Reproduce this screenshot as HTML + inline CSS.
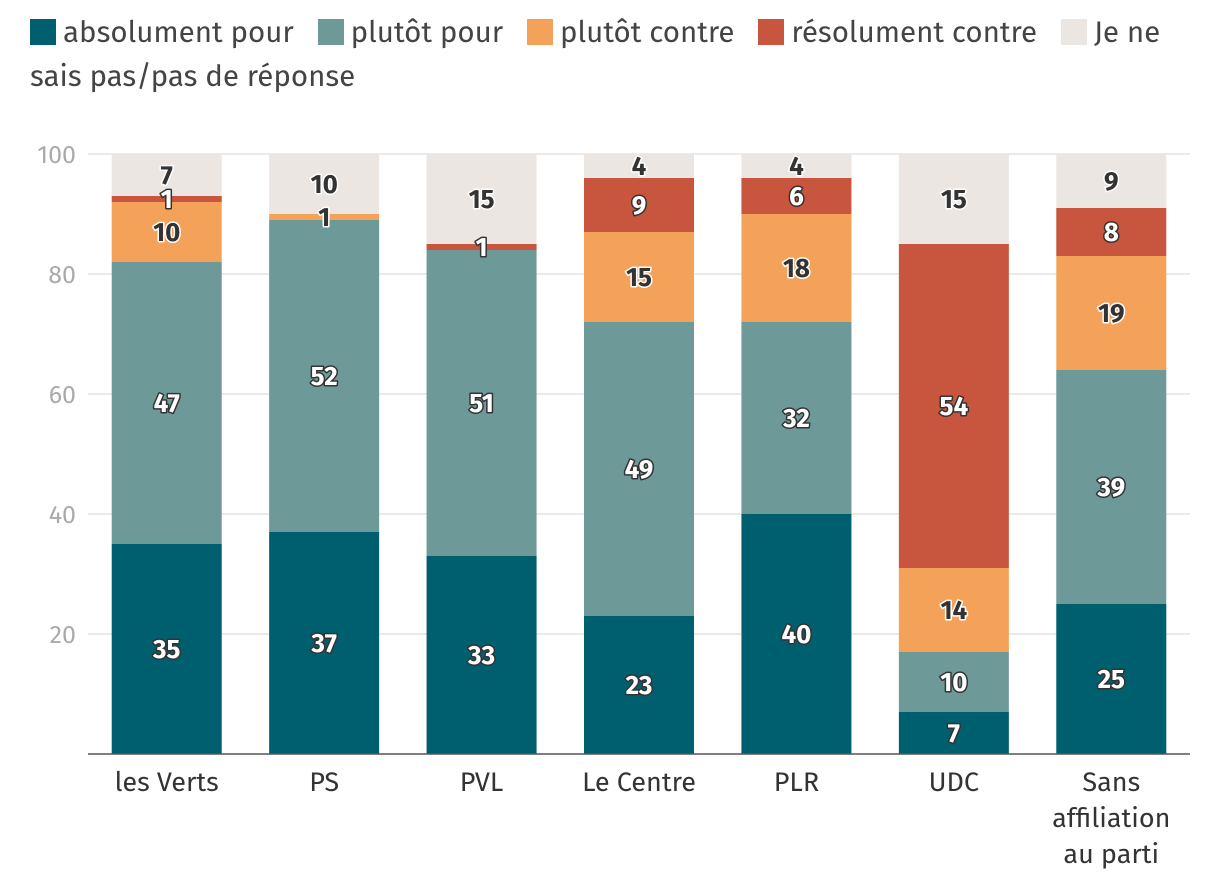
<!DOCTYPE html>
<html><head><meta charset="utf-8"><style>
body{margin:0;background:#fff;width:1220px;height:890px;overflow:hidden;font-family:"Fira Sans","Liberation Sans",sans-serif}
.leg{position:absolute;font-size:29.5px;color:#444;line-height:44px}
.sw{display:inline-block;width:26px;height:26px;vertical-align:-3px;margin-right:7px}
</style></head><body>
<div class="leg" style="left:30px;top:10px;width:1170px">
<span style="margin-right:16px"><span class="sw" style="background:#005f6e"></span>absolument pour</span>
<span style="margin-right:16px"><span class="sw" style="background:#6d9a98"></span>plutôt pour</span>
<span style="margin-right:16px"><span class="sw" style="background:#f4a259"></span>plutôt contre</span>
<span style="margin-right:16px"><span class="sw" style="background:#c8553d"></span>résolument contre</span>
<span><span class="sw" style="background:#ebe6e2"></span>Je ne sais pas/pas de réponse</span>
</div>
<svg id="chart" width="1220" height="890" style="position:absolute;left:0;top:0"></svg>
<script>
const categories=[["les Verts"],["PS"],["PVL"],["Le Centre"],["PLR"],["UDC"],["Sans","affiliation","au parti"]];
const absolumentPour=[35,37,33,23,40,7,25];
const plutotPour=[47,52,51,49,32,10,39];
const plutotContre=[10,1,0,15,18,14,19];
const resolumentContre=[1,0,1,9,6,54,8];
const neSaisPas=[7,10,15,4,4,15,9];
const yTicks=[20,40,60,80,100];
const series=[absolumentPour,plutotPour,plutotContre,resolumentContre,neSaisPas];
const seriesNames=["absolument-pour","plutot-pour","plutot-contre","resolument-contre","ne-sais-pas"];
const colors=["#005f6e","#6d9a98","#f4a259","#c8553d","#ebe6e2"];
const darkText=[false,false,true,false,true];
const FF='Fira Sans, Liberation Sans, sans-serif';
const NS="http://www.w3.org/2000/svg";
const svg=document.getElementById('chart');
const x0=88,x1=1190,yBase=754,yTop=154;
const step=(x1-x0)/categories.length,bw=110;
const y=v=>yBase-(v/100)*(yBase-yTop);
const xc=i=>x0+step*(i+0.5);
function mk(t,a){const e=document.createElementNS(NS,t);for(const k in a)e.setAttribute(k,a[k]);svg.appendChild(e);return e;}
yTicks.forEach(t=>{
 const g=mk('line',{x1:x0,x2:x1,y1:y(t),y2:y(t),stroke:'#e4e4e4','stroke-width':1.5});
 
 
 const l=mk('text',{x:76,y:y(t)+9,'text-anchor':'end','font-size':25,fill:'#aaa','font-family':FF});
 l.textContent=t;
 
 
});
const labels=[];
categories.forEach((c,i)=>{
 let cum=0;
 series.forEach((s,k)=>{
  const v=s[i];
  if(v>0){
   const r=mk('rect',{x:xc(i)-bw/2,y:y(cum+v),width:bw,height:y(cum)-y(cum+v),fill:colors[k]});
   
   
   labels.push([i,cum+v/2,v,k]);
  }
  cum+=v;
 });
 c.forEach((ln,j)=>{
  const t=mk('text',{x:xc(i),y:791+j*36,'text-anchor':'middle','font-size':27,fill:'#333','font-family':FF});
  t.textContent=ln;
  
  
 });
});
labels.forEach(([i,m,v,k])=>{
 const d=darkText[k];
 const t=mk('text',{x:xc(i),y:y(m)+9,'text-anchor':'middle','font-size':26,'font-weight':'bold',fill:d?'#333':'#fff',stroke:d?'#fff':'#333','stroke-width':3,'paint-order':'stroke','stroke-linejoin':'round','font-family':FF});
 t.textContent=v;
 
 
});
const ax=mk('line',{x1:x0,x2:x1,y1:yBase,y2:yBase,stroke:'#555','stroke-width':1.5});


</script>
</body></html>
